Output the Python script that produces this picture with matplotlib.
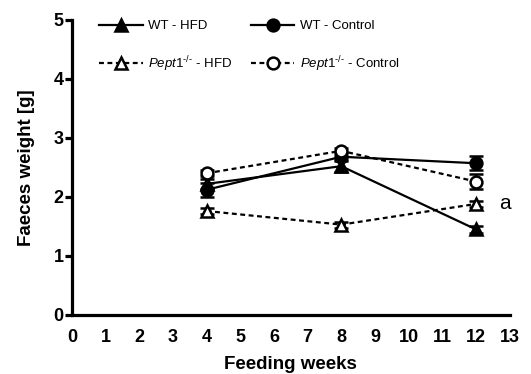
import numpy as np
import matplotlib
matplotlib.use('Agg')
import matplotlib.pyplot as plt
from matplotlib.lines import Line2D

plt.rcParams['font.family'] = ['Liberation Sans', 'DejaVu Sans']
plt.rcParams['mathtext.fontset'] = 'custom'
plt.rcParams['mathtext.rm'] = 'Liberation Sans'
plt.rcParams['mathtext.it'] = 'Liberation Sans:italic'

weeks = [4, 8, 12]
wt_hfd = [2.22, 2.52, 1.45]
wt_hfd_err = [0.08, 0.10, 0.06]
wt_ctrl = [2.12, 2.68, 2.57]
wt_ctrl_err = [0.12, 0.08, 0.12]
ko_hfd = [1.76, 1.53, 1.88]
ko_hfd_err = [0.05, 0.05, 0.05]
ko_ctrl = [2.40, 2.78, 2.26]
ko_ctrl_err = [0.05, 0.05, 0.12]

x_ticks = list(range(0, 14))
y_ticks = [0, 1, 2, 3, 4, 5]

labels = ['WT - HFD', '$Pept1^{\u2010/\u2010}$ - HFD',
          'WT - Control', '$Pept1^{\u2010/\u2010}$ - Control']

fig = plt.figure(figsize=(5.31, 3.74), dpi=100)
ax = fig.add_axes([0.1356, 0.158, 0.824, 0.789])

lw = 1.6
ms = 8.5
dash = (2.2, 1.6)

series = [
    (wt_hfd, wt_hfd_err, '^', 'k', '-'),
    (ko_hfd, ko_hfd_err, '^', 'white', '--'),
    (wt_ctrl, wt_ctrl_err, 'o', 'k', '-'),
    (ko_ctrl, ko_ctrl_err, 'o', 'white', '--'),
]

handles = []
for (vals, err, mk, fc, ls), lab in zip(series, labels):
    line, caps, bars = ax.errorbar(weeks, vals, yerr=err, color='k', lw=lw, ls=ls,
                                   marker=mk, ms=ms, mfc=fc, mec='k', mew=1.8,
                                   capsize=5, capthick=1.5, elinewidth=1.5,
                                   clip_on=False, zorder=3)
    if ls == '--':
        line.set_dashes(dash)
    h = Line2D([], [], color='k', lw=lw, ls=ls, marker=mk, ms=ms,
               mfc=fc, mec='k', mew=1.8)
    if ls == '--':
        h.set_dashes(dash)
    handles.append(h)

# significance mark next to the week-12 Pept1 HFD point
ax.text(12.7, ko_hfd[-1], 'a', fontsize=15, va='center', ha='left')

ax.set_xlim(0, 13)
ax.set_ylim(0, 5)
ax.set_xticks(x_ticks)
ax.set_yticks(y_ticks)
for lbl in ax.get_xticklabels() + ax.get_yticklabels():
    lbl.set_fontweight('bold')
    lbl.set_fontsize(13)

ax.spines['top'].set_visible(False)
ax.spines['right'].set_visible(False)
for s in ['left', 'bottom']:
    ax.spines[s].set_linewidth(2.3)
ax.tick_params(axis='y', direction='out', length=5, width=2.3, pad=1)
ax.tick_params(axis='x', length=0, pad=10)

ax.set_xlabel('Feeding weeks', fontsize=13.5, fontweight='bold', labelpad=7)
ax.set_ylabel('Faeces weight [g]', fontsize=13.5, fontweight='bold', labelpad=13)

ax.legend(handles, labels, ncol=2, loc='upper left', bbox_to_anchor=(0.035, 1.04),
          frameon=False, fontsize=9.5, handlelength=3.3, columnspacing=1.4,
          labelspacing=1.65, handletextpad=0.4)

fig.savefig('out.png', dpi=100)
